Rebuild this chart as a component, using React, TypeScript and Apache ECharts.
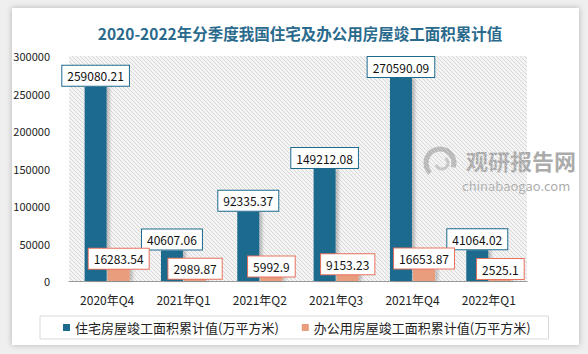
import React, { useEffect, useRef } from "react";
import * as echarts from "echarts";

const categories = ["2020年Q4", "2021年Q1", "2021年Q2", "2021年Q3", "2021年Q4", "2022年Q1"];
const residential = [259080.21, 40607.06, 92335.37, 149212.08, 270590.09, 41064.02];
const office = [16283.54, 2989.87, 5992.9, 9153.23, 16653.87, 2525.1];
const seriesNames = ["住宅房屋竣工面积累计值(万平方米)", "办公用房屋竣工面积累计值(万平方米)"];
const titleText = "2020-2022年分季度我国住宅及办公用房屋竣工面积累计值";

const FONT = "'Noto Sans CJK SC', 'Noto Sans', sans-serif";
const BLUE = "#1c6a8e";
const ORANGE = "#e89d7b";
const ORANGE_BORDER = "#e8725e";

function renderHatch(params: any, api: any) {
  const cs = params.coordSys;
  const L = cs.x;
  const T = cs.y;
  const W = cs.width;
  const H = cs.height;
  const step = 4;
  const children: any[] = [];
  for (let c = -H; c <= W; c += step) {
    const t0 = Math.max(0, -c);
    const t1 = Math.min(H, W - c);
    if (t1 <= t0) continue;
    children.push({
      type: "line",
      shape: { x1: L + c + t0, y1: T + t0, x2: L + c + t1, y2: T + t1 },
      style: { stroke: "#cfcfcf", lineWidth: 0.8 },
    });
  }
  return { type: "group", children };
}

export default function App() {
  const ref = useRef<HTMLDivElement>(null);
  useEffect(() => {
    if (!ref.current) return;
    const chart = echarts.init(ref.current, undefined, { renderer: "svg" });
    const labelBase = {
      show: true,
      position: "top",
      fontFamily: FONT,
      fontSize: 12,
      color: "#111",
      backgroundColor: "#fff",
      borderWidth: 1,
      padding: [3, 5],
      lineHeight: 14,
      formatter: (p: any) => String(p.value),
    };
    const barShadow = {
      shadowColor: "rgba(0,0,0,0.22)",
      shadowBlur: 3,
      shadowOffsetX: 3,
      shadowOffsetY: 0,
    };
    chart.setOption({
      animation: false,
      title: {
        text: titleText,
        left: 295,
        textAlign: "center",
        top: 20,
        textStyle: { fontFamily: FONT, fontSize: 15.5, fontWeight: "bold", color: "#2a6a8c" },
      },
      grid: {
        left: 69,
        right: 61,
        top: 56,
        bottom: 73,
        show: true,
        borderWidth: 0,
        backgroundColor: "#f4f4f4",
      },
      legend: {
        left: 40,
        top: 316,
        padding: [5, 18, 5, 23],
        borderColor: "#d9d9d9",
        borderWidth: 1,
        itemWidth: 7,
        itemHeight: 7,
        itemGap: 23,
        icon: "rect",
        textStyle: { fontFamily: FONT, fontSize: 13, color: "#222" },
        data: seriesNames,
      },
      xAxis: {
        type: "category",
        data: categories,
        axisLine: { lineStyle: { color: "#999" } },
        axisTick: { show: false },
        axisLabel: { fontFamily: FONT, fontSize: 12, color: "#222", margin: 12 },
      },
      yAxis: {
        type: "value",
        min: 0,
        max: 300000,
        interval: 50000,
        splitLine: { show: false },
        axisLine: { show: false },
        axisTick: { show: false },
        axisLabel: {
          fontFamily: FONT,
          fontSize: 11,
          color: "#222",
          margin: 19,
          formatter: (v: number) => String(v),
        },
      },
      series: [
        {
          type: "custom",
          name: "hatch",
          z: 0,
          silent: true,
          clip: false,
          data: [0],
          renderItem: renderHatch,
          tooltip: { show: false },
        },
        {
          name: seriesNames[0],
          type: "bar",
          data: residential,
          barWidth: 22,
          barGap: "5%",
          z: 3,
          itemStyle: { color: BLUE, ...barShadow },
          label: { ...labelBase, borderColor: BLUE, distance: 1 },
        },
        {
          name: seriesNames[1],
          type: "bar",
          data: office,
          barWidth: 22,
          z: 3,
          itemStyle: { color: ORANGE, ...barShadow },
          label: { ...labelBase, borderColor: ORANGE_BORDER, distance: 0 },
        },
      ],
      graphic: {
        elements: [
          {
            type: "group",
            z: 100,
            silent: true,
            children: [
              {
                type: "arc",
                shape: { cx: 440, cy: 163, r: 14, startAngle: Math.PI * 0.75, endAngle: Math.PI * 2.1 },
                style: { stroke: "#a8a8a8", lineWidth: 5, fill: "none", opacity: 0.8 },
              },
              {
                type: "arc",
                shape: { cx: 442, cy: 163, r: 6, startAngle: Math.PI * 1.7, endAngle: Math.PI * 2.9 },
                style: { stroke: "#b8b8b8", lineWidth: 3, fill: "none", opacity: 0.8 },
              },
              {
                type: "text",
                x: 466,
                y: 160,
                style: {
                  text: "观研报告网",
                  fontFamily: FONT,
                  fontSize: 22,
                  lineHeight: 22,
                  fontWeight: "bold",
                  fill: "#9c9c9c",
                  opacity: 0.85,
                  verticalAlign: "middle",
                },
              },
              {
                type: "text",
                x: 462,
                y: 185,
                style: {
                  text: "chinabaogao.com",
                  fontFamily: FONT,
                  fontSize: 13,
                  lineHeight: 13,
                  fill: "#9c9c9c",
                  opacity: 0.85,
                  verticalAlign: "middle",
                },
              },
            ],
          },
        ],
      },
    });
    return () => chart.dispose();
  }, []);
  return (
    <div style={{ position: "fixed", left: 0, top: 0, width: 588, height: 354, background: "#efefef" }}>
      <div
        style={{
          position: "absolute",
          left: 12,
          top: 8,
          width: 567,
          height: 337,
          background: "#fff",
          boxShadow: "0 0 6px rgba(0,0,0,0.25)",
        }}
      />
      <div ref={ref} style={{ position: "absolute", left: 0, top: 0, width: 588, height: 354 }} />
    </div>
  );
}
